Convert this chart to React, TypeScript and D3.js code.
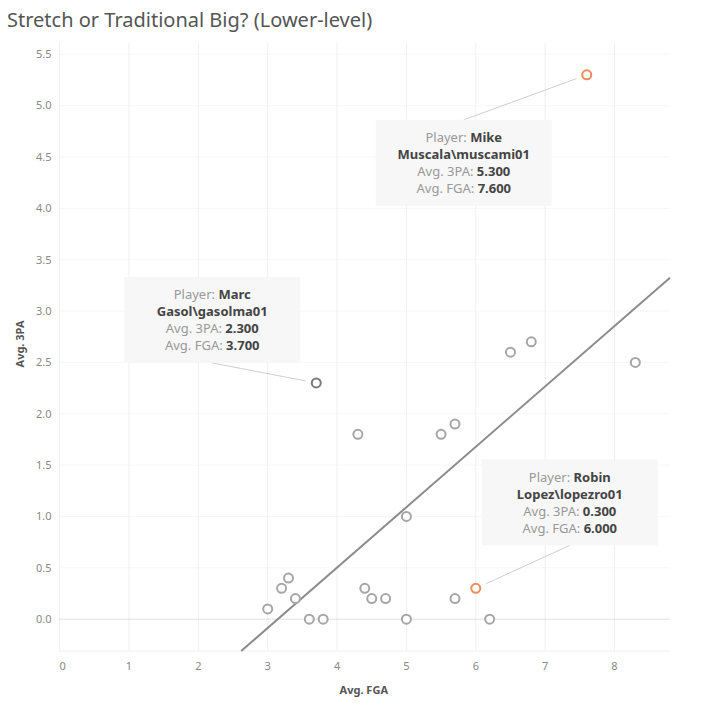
import { useEffect, useRef } from 'react'
import * as d3 from 'd3'

const players = [
  'Mike Muscala\\muscami01', 'Marc Gasol\\gasolma01', 'Robin Lopez\\lopezro01',
  'p04', 'p05', 'p06', 'p07', 'p08', 'p09', 'p10', 'p11',
  'p12', 'p13', 'p14', 'p15', 'p16', 'p17', 'p18', 'p19', 'p20', 'p21', 'p22',
]
const avgFGA = [7.6, 3.7, 6.0, 8.3, 6.5, 6.8, 4.3, 5.5, 5.7, 5.0, 3.0, 3.2, 3.3, 3.4, 3.6, 3.8, 4.4, 4.5, 4.7, 5.0, 5.7, 6.2]
const avg3PA = [5.3, 2.3, 0.3, 2.5, 2.6, 2.7, 1.8, 1.8, 1.9, 1.0, 0.1, 0.3, 0.4, 0.2, 0.0, 0.0, 0.3, 0.2, 0.2, 0.0, 0.2, 0.0]
const highlighted = ['Mike Muscala\\muscami01', 'Robin Lopez\\lopezro01']
const selected = ['Marc Gasol\\gasolma01']
const annotated = ['Mike Muscala\\muscami01', 'Marc Gasol\\gasolma01', 'Robin Lopez\\lopezro01']

const xTicks = [0, 1, 2, 3, 4, 5, 6, 7, 8]
const yTicks = [0, 0.5, 1, 1.5, 2, 2.5, 3, 3.5, 4, 4.5, 5, 5.5]

const FONT = '"Noto Sans", "Open Sans", sans-serif'

export default function App() {
  const svgRef = useRef<SVGSVGElement>(null)

  useEffect(() => {
    document.body.style.margin = '0'
    if (!svgRef.current) return
    const width = 728
    const height = 710
    const margin = { top: 43, right: 58, bottom: 59, left: 59.6 }
    const innerWidth = width - margin.left - margin.right
    const innerHeight = height - margin.top - margin.bottom

    const svg = d3.select(svgRef.current)
    svg.selectAll('*').remove()

    svg.append('text')
      .attr('x', 7)
      .attr('y', 27)
      .attr('font-family', FONT)
      .attr('font-size', '20px')
      .attr('fill', '#555')
      .text('Stretch or Traditional Big? (Lower-level)')

    const g = svg.append('g').attr('transform', `translate(${margin.left},${margin.top})`)

    const xScale = d3.scaleLinear().domain([0, 8.8]).range([0, innerWidth])
    const yScale = d3.scaleLinear().domain([-0.31, 5.61]).range([innerHeight, 0])

    // grid
    g.append('g')
      .selectAll('line')
      .data(xTicks)
      .join('line')
      .attr('x1', d => xScale(d))
      .attr('x2', d => xScale(d))
      .attr('y1', 0)
      .attr('y2', innerHeight)
      .attr('stroke', '#f0f0f0')
      .attr('stroke-width', 1)

    g.append('g')
      .selectAll('line')
      .data(yTicks.filter(d => d !== 0))
      .join('line')
      .attr('x1', 0)
      .attr('x2', innerWidth)
      .attr('y1', d => yScale(d))
      .attr('y2', d => yScale(d))
      .attr('stroke', '#eeeeee')
      .attr('stroke-width', 1)
      .attr('stroke-dasharray', '1,1')

    g.append('line')
      .attr('x1', 0)
      .attr('x2', innerWidth)
      .attr('y1', innerHeight)
      .attr('y2', innerHeight)
      .attr('stroke', '#f0f0f0')

    g.append('line')
      .attr('x1', 0)
      .attr('x2', innerWidth)
      .attr('y1', yScale(0))
      .attr('y2', yScale(0))
      .attr('stroke', '#c4c4c4')
      .attr('stroke-width', 1)
      .attr('stroke-dasharray', '1,1')

    // tick labels
    g.append('g')
      .selectAll('text')
      .data(xTicks)
      .join('text')
      .attr('x', d => xScale(d) + (d === 0 ? 3 : 0))
      .attr('y', innerHeight + 19)
      .attr('text-anchor', 'middle')
      .attr('font-family', FONT)
      .attr('font-size', '11px')
      .attr('fill', '#888')
      .text(d => d3.format('d')(d))

    g.append('g')
      .selectAll('text')
      .data(yTicks)
      .join('text')
      .attr('x', -8)
      .attr('y', d => yScale(d))
      .attr('dy', '0.35em')
      .attr('text-anchor', 'end')
      .attr('font-family', FONT)
      .attr('font-size', '11px')
      .attr('fill', '#888')
      .text(d => d3.format('.1f')(d))

    svg.append('text')
      .attr('x', margin.left + innerWidth / 2 - 1)
      .attr('y', 694)
      .attr('text-anchor', 'middle')
      .attr('font-family', FONT)
      .attr('font-size', '11px')
      .attr('font-weight', 'bold')
      .attr('fill', '#555')
      .text('Avg. FGA')

    svg.append('text')
      .attr('transform', `translate(24,${margin.top + innerHeight / 2 - 3}) rotate(-90)`)
      .attr('text-anchor', 'middle')
      .attr('font-family', FONT)
      .attr('font-size', '11px')
      .attr('font-weight', 'bold')
      .attr('fill', '#555')
      .text('Avg. 3PA')

    // linear trend line (least squares)
    const mx = d3.mean(avgFGA) as number
    const my = d3.mean(avg3PA) as number
    const sxy = d3.sum(avgFGA, (x, i) => (x - mx) * (avg3PA[i] - my))
    const sxx = d3.sum(avgFGA, x => (x - mx) * (x - mx))
    const slope = sxy / sxx
    const intercept = my - slope * mx
    const [yMin] = yScale.domain()
    const xStart = (yMin - intercept) / slope
    const xEnd = xScale.domain()[1]
    const trend = d3.line<number>()
      .x(d => xScale(d))
      .y(d => yScale(intercept + slope * d))

    g.append('path')
      .attr('d', trend([xStart, xEnd]))
      .attr('fill', 'none')
      .attr('stroke', '#8c8c8c')
      .attr('stroke-width', 2)

    // points
    const points = players.map((p, i) => ({ p, x: avgFGA[i], y: avg3PA[i] }))

    g.append('g')
      .selectAll('circle')
      .data(points)
      .join('circle')
      .attr('cx', d => xScale(d.x))
      .attr('cy', d => yScale(d.y))
      .attr('r', 4.5)
      .attr('fill', 'white')
      .attr('stroke', d => highlighted.includes(d.p) ? '#ef8a5b' : selected.includes(d.p) ? '#7a7a7a' : '#a6a6a6')
      .attr('stroke-width', 2)

    // tooltips
    const boxW = 176
    const boxH = 86
    const offsets: Record<string, [number, number]> = {
      'Mike Muscala\\muscami01': [-123, 88],
      'Marc Gasol\\gasolma01': [-104, -63],
      'Robin Lopez\\lopezro01': [94, -86],
    }

    points.filter(d => annotated.includes(d.p)).forEach(d => {
      const px = xScale(d.x)
      const py = yScale(d.y)
      const [ox, oy] = offsets[d.p]
      const cx = px + ox
      const cy = py + oy
      const ex = cx
      const ey = oy > 0 ? cy - boxH / 2 : cy + boxH / 2
      const dx = px - ex
      const dy = py - ey
      const len = Math.sqrt(dx * dx + dy * dy)
      const ax = px - dx / len * 11
      const ay = py - dy / len * 11

      g.append('line')
        .attr('x1', ex)
        .attr('y1', ey)
        .attr('x2', ax)
        .attr('y2', ay)
        .attr('stroke', '#cfcfcf')
        .attr('stroke-width', 1)

      g.append('rect')
        .attr('x', cx - boxW / 2)
        .attr('y', cy - boxH / 2)
        .attr('width', boxW)
        .attr('height', boxH)
        .attr('fill', '#f6f6f6')
        .attr('opacity', 0.92)

      const [first, last] = d.p.split(' ')
      const lines: Array<[string, string]> = [
        ['Player: ', first],
        ['', last],
        ['Avg. 3PA: ', d3.format('.3f')(d.y)],
        ['Avg. FGA: ', d3.format('.3f')(d.x)],
      ]
      lines.forEach(([label, value], i) => {
        const t = g.append('text')
          .attr('x', cx)
          .attr('y', cy - boxH / 2 + 18 + i * 17)
          .attr('dy', '0.35em')
          .attr('text-anchor', 'middle')
          .attr('font-family', FONT)
          .attr('font-size', '13px')
        if (label) t.append('tspan').attr('fill', '#999').text(label)
        t.append('tspan').attr('fill', '#444').attr('font-weight', 'bold').text(value)
      })
    })
  }, [])

  return (
    <svg ref={svgRef} width={728} height={710} style={{ display: 'block' }} />
  )
}
